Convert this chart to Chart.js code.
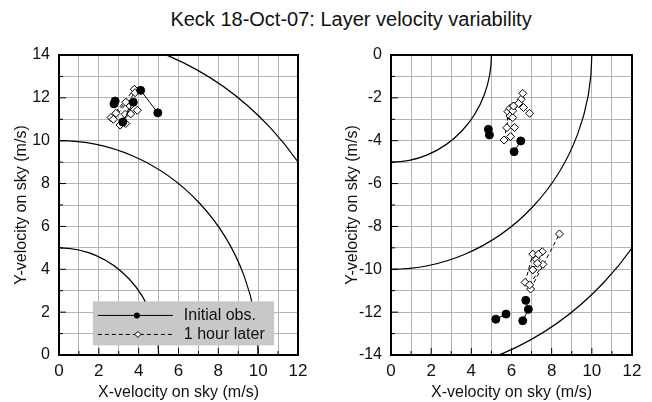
<!DOCTYPE html>
<html>
<head>
<meta charset="utf-8">
<script src="https://cdn.jsdelivr.net/npm/chart.js@4/dist/chart.umd.min.js"></script>
<style>
  body { margin: 0; background: #fff; }
  #wrap { position: relative; width: 652px; height: 402px; overflow: hidden; }
  #title { position: absolute; top: 8px; left: 0; width: 652px; padding-left: 50px; box-sizing: border-box;
           text-align: center; font: 20px "Liberation Sans", Arial, sans-serif; color: #111; }
  .pane { position: absolute; top: 0; width: 326px; height: 402px; }
</style>
</head>
<body>
<div id="wrap">
  <div id="title">Keck 18-Oct-07: Layer velocity variability</div>
  <div class="pane" style="left:0"><canvas id="left"></canvas></div>
  <div class="pane" style="left:326px"><canvas id="right"></canvas></div>
</div>
<script>
// circles of constant wind speed (m/s)
const ringRadii = [5, 10, 15];

// left panel: initial observations (null = break between segments)
const leftInitX = [2.82, 2.76, null, 3.73, 3.20, null, 4.10, 4.96];
const leftInitY = [11.85, 11.72, null, 11.80, 10.87, null, 12.35, 11.30];
// left panel: one hour later
const leftLaterX = [2.61, 3.78, null, 2.73, 3.82, null, 3.07, 3.57, null, 2.86, 3.35, null, 3.35, 3.32, null, 3.60, 3.93];
const leftLaterY = [11.08, 12.40, null, 11.00, 12.24, null, 10.73, 11.62, null, 11.28, 11.80, null, 10.80, 11.23, null, 11.25, 11.42];

// right panel
const rightInitX = [4.85, 4.90, null, 6.13, 6.46, null, 5.22, 5.73, null, 6.71, 6.84, 6.56];
const rightInitY = [-3.47, -3.73, null, -4.51, -4.01, null, -12.33, -12.09, null, -11.45, -11.87, -12.40];
const rightLaterX = [5.77, 5.82, null, 5.63, 5.93, null, 6.10, 6.48, null, 6.35, 6.56, null, 6.90, 6.60, null, 5.95, 6.15, null, 5.93, 6.06, null, 6.06, 6.10,
                     null, 6.95, 8.39, null, 6.68, 7.06, null, 6.90, 7.56, null, 7.06, 7.53, null, 7.23, 7.34, null, 7.29, 7.06];
const rightLaterY = [-3.39, -2.64, null, -3.97, -2.49, null, -2.38, -2.07, null, -2.26, -1.79, null, -2.72, -2.45, null, -3.81, -3.38, null, -2.85, -2.92, null, -2.60, -2.38,
                     null, -10.92, -8.35, null, -10.61, -9.29, null, -10.73, -9.77, null, -10.03, -9.18, null, -9.54, -9.30, null, -9.72, -10.03];

const xRange = [0, 12];
const leftYRange = [0, 14];
const rightYRange = [-14, 0];

const FONT = '"Liberation Sans", Arial, sans-serif';

function pts(xs, ys) {
  return xs.map((x, i) => ({x: x, y: ys[i]}));
}

const frame = {
  id: 'frame',
  beforeDatasetsDraw(chart) {
    const {ctx, chartArea: a, scales: {x, y}} = chart;
    const cx = x.getPixelForValue(0), cy = y.getPixelForValue(0);
    ctx.save();
    ctx.beginPath();
    ctx.rect(a.left, a.top, a.right - a.left, a.bottom - a.top);
    ctx.clip();
    ctx.strokeStyle = '#000';
    ctx.lineWidth = 1.2;
    ringRadii.forEach(r => {
      const rx = Math.abs(x.getPixelForValue(r) - cx);
      const ry = Math.abs(y.getPixelForValue(r) - y.getPixelForValue(0));
      ctx.beginPath();
      ctx.ellipse(cx, cy, rx, ry, 0, 0, Math.PI * 2);
      ctx.stroke();
    });
    ctx.restore();
  },
  afterDraw(chart) {
    const {ctx, chartArea: a, scales: {x, y}} = chart;
    ctx.save();
    ctx.strokeStyle = '#000';
    ctx.lineWidth = 1;
    x.ticks.forEach(t => {
      const px = x.getPixelForValue(t.value);
      const len = t.value % 2 === 0 ? 7 : 4;
      ctx.beginPath(); ctx.moveTo(px, a.bottom); ctx.lineTo(px, a.bottom - len); ctx.stroke();
    });
    y.ticks.forEach(t => {
      const py = y.getPixelForValue(t.value);
      const len = t.value % 2 === 0 ? 7 : 4;
      ctx.beginPath(); ctx.moveTo(a.left, py); ctx.lineTo(a.left + len, py); ctx.stroke();
    });
    ctx.lineWidth = 2;
    ctx.strokeRect(a.left, a.top, a.right - a.left, a.bottom - a.top);
    ctx.restore();
  }
};

const legendBox = {
  id: 'legendBox',
  afterDatasetsDraw(chart) {
    const {ctx, scales: {x, y}} = chart;
    const l = x.getPixelForValue(1.7), r = x.getPixelForValue(10.8);
    const t = y.getPixelForValue(2.5), b = y.getPixelForValue(0.45);
    ctx.save();
    ctx.fillStyle = '#c8c8c8';
    ctx.fillRect(l, t, r - l, b - t);
    const y1 = t + 14, y2 = t + 33;
    ctx.strokeStyle = '#000';
    ctx.lineWidth = 1;
    ctx.beginPath(); ctx.moveTo(l + 5, y1); ctx.lineTo(l + 80, y1); ctx.stroke();
    ctx.fillStyle = '#000';
    ctx.beginPath(); ctx.arc(l + 44, y1, 3, 0, Math.PI * 2); ctx.fill();
    ctx.setLineDash([4, 3]);
    ctx.beginPath(); ctx.moveTo(l + 5, y2); ctx.lineTo(l + 80, y2); ctx.stroke();
    ctx.setLineDash([]);
    ctx.fillStyle = '#fff';
    ctx.beginPath();
    ctx.moveTo(l + 45, y2 - 3); ctx.lineTo(l + 48, y2); ctx.lineTo(l + 45, y2 + 3); ctx.lineTo(l + 42, y2);
    ctx.closePath(); ctx.fill(); ctx.stroke();
    ctx.fillStyle = '#111';
    ctx.font = '16px ' + FONT;
    ctx.textBaseline = 'middle';
    ctx.fillText('Initial obs.', l + 91, y1);
    ctx.fillText('1 hour later', l + 91, y2);
    ctx.restore();
  }
};

function makeChart(id, initX, initY, laterX, laterY, yRange, padLeft, yWidth, rightPad, plugins) {
  return new Chart(document.getElementById(id), {
    type: 'scatter',
    data: {
      datasets: [{
        label: 'Initial obs.',
        data: pts(initX, initY),
        showLine: true,
        spanGaps: false,
        borderColor: '#000',
        borderWidth: 1,
        backgroundColor: '#000',
        pointRadius: 4,
        pointStyle: 'circle'
      }, {
        label: '1 hour later',
        data: pts(laterX, laterY),
        showLine: true,
        spanGaps: false,
        borderColor: '#000',
        borderWidth: 1,
        borderDash: [4, 3],
        backgroundColor: '#fff',
        pointBorderColor: '#000',
        pointBorderWidth: 1,
        pointRadius: 4,
        pointStyle: 'rectRot'
      }]
    },
    options: {
      responsive: true,
      maintainAspectRatio: false,
      animation: false,
      layout: {padding: {top: 55, right: rightPad, bottom: 0, left: padLeft}},
      plugins: {legend: {display: false}, tooltip: {enabled: false}},
      scales: {
        x: {
          type: 'linear', min: xRange[0], max: xRange[1],
          afterFit(s) { s.height = 47; },
          ticks: {stepSize: 1, autoSkip: false, maxRotation: 0, minRotation: 0,
                  color: '#111', font: {size: 17, family: FONT}, padding: 6,
                  callback: v => v % 2 === 0 ? v : ''},
          grid: {color: '#b4b4b4', lineWidth: 1, drawTicks: false},
          border: {display: false},
          title: {display: true, text: 'X-velocity on sky (m/s)', color: '#111',
                  font: {size: 16, family: FONT}, padding: {top: 0, bottom: 0}}
        },
        y: {
          type: 'linear', min: yRange[0], max: yRange[1],
          afterFit(s) { s.width = yWidth; },
          ticks: {stepSize: 1, autoSkip: false, color: '#111', font: {size: 16, family: FONT}, padding: 9,
                  callback: v => v % 2 === 0 ? v : ''},
          grid: {color: '#b4b4b4', lineWidth: 1, drawTicks: false},
          border: {display: false},
          title: {display: true, text: 'Y-velocity on sky (m/s)', color: '#111',
                  font: {size: 16, family: FONT}, padding: {top: 0, bottom: 0}}
        }
      }
    },
    plugins: plugins
  });
}

makeChart('left', leftInitX, leftInitY, leftLaterX, leftLaterY, leftYRange, 12, 47, 28, [frame, legendBox]);
makeChart('right', rightInitX, rightInitY, rightLaterX, rightLaterY, rightYRange, 17, 48, 20, [frame]);
</script>
</body>
</html>
